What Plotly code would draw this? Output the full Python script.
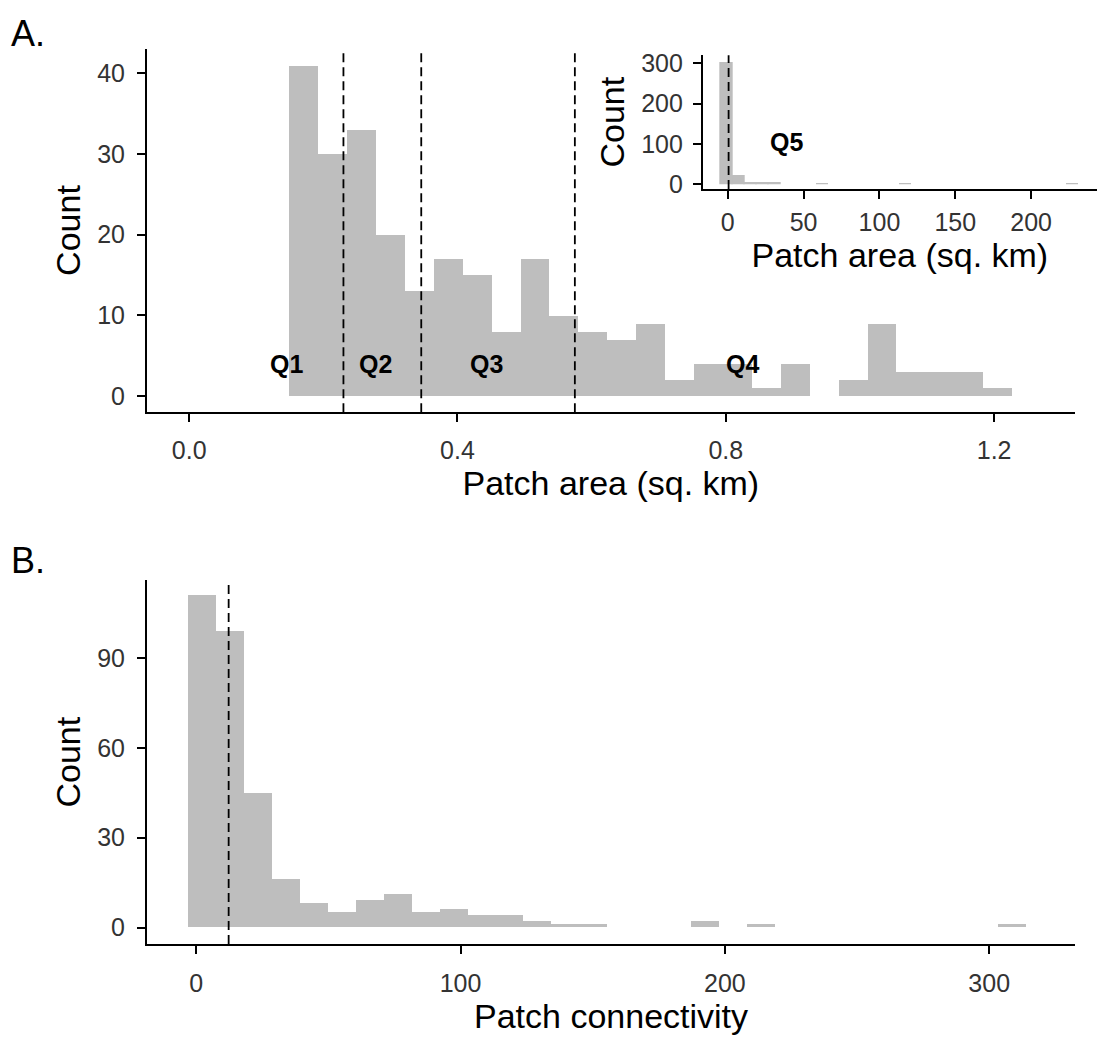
import numpy as np
import plotly.graph_objects as go

W, H = 1103, 1043

# ---------------- data ----------------
# Panel A: patch area histogram (zoomed to < 1.3 sq. km)
area_bin_start = 0.1487
area_bin_width = 0.04311
area_counts = [41, 30, 33, 20, 13, 17, 15, 8, 17, 10, 8, 7, 9, 2, 4, 4, 1, 4, 0, 2, 9, 3, 3, 3, 1]
area_quantile_cuts = [0.230, 0.346, 0.575]
quartile_labels = ["Q1", "Q2", "Q3", "Q4"]
quartile_label_x = [0.145, 0.278, 0.444, 0.825]
quartile_label_y = 3.9

# Inset: full patch area histogram
inset_bin_center0 = -0.57
inset_bin_width = 7.87
inset_counts = [301, 20, 3, 2, 2, 0, 0, 0, 1, 0, 0, 0, 0, 0, 0,
                1, 0, 0, 0, 0, 0, 0, 0, 0, 0, 0, 0, 0, 0, 1]
inset_cut = 0.575
inset_label = "Q5"
inset_label_x = 39
inset_label_y = 106

# Panel B: patch connectivity histogram
conn_bin_start = -3.06
conn_bin_width = 10.56
conn_counts = [111, 99, 45, 16, 8, 5, 9, 11, 5, 6, 4, 4, 2, 1, 1,
               0, 0, 0, 2, 0, 1, 0, 0, 0, 0, 0, 0, 0, 0, 1]
conn_cut = 12.3

# ---------------- helpers ----------------
def fx(px):
    return px / W

def fy(py):
    return 1 - py / H

area_centers = area_bin_start + area_bin_width * (np.arange(len(area_counts)) + 0.5)
inset_centers = inset_bin_center0 + inset_bin_width * np.arange(len(inset_counts))
conn_centers = conn_bin_start + conn_bin_width * (np.arange(len(conn_counts)) + 0.5)

# only non-empty inset bins are drawn (empty bins have no visible bar)
inset_nz = [i for i, c in enumerate(inset_counts) if c > 0]

BAR = "#BEBEBE"
FONT = "Liberation Sans, Arial, sans-serif"
TICKC = "#333333"

fig = go.Figure()
fig.add_trace(go.Bar(x=area_centers, y=area_counts, width=area_bin_width,
                     marker=dict(color=BAR, line=dict(width=0)),
                     xaxis="x", yaxis="y", showlegend=False))
fig.add_trace(go.Bar(x=conn_centers, y=conn_counts, width=conn_bin_width,
                     marker=dict(color=BAR, line=dict(width=0)),
                     xaxis="x2", yaxis="y2", showlegend=False))
fig.add_trace(go.Bar(x=[inset_centers[i] for i in inset_nz],
                     y=[inset_counts[i] for i in inset_nz],
                     width=inset_bin_width,
                     marker=dict(color=BAR, line=dict(width=1.4, color=BAR)),
                     xaxis="x3", yaxis="y3", showlegend=False))

axis_common = dict(showline=True, linecolor="black", linewidth=1.5,
                   ticks="outside", ticklen=8, tickwidth=1.5, tickcolor="black",
                   showgrid=False, zeroline=False,
                   tickfont=dict(family=FONT, size=25, color=TICKC))
title_font = dict(family=FONT, size=34, color="black")

fig.update_layout(
    width=W, height=H,
    margin=dict(l=0, r=0, t=0, b=0),
    paper_bgcolor="white", plot_bgcolor="white",
    bargap=0,
    font=dict(family=FONT),
    xaxis=dict(domain=[fx(146.7), fx(1075)], anchor="y", range=[-0.0633, 1.3206],
               tickvals=[0, 0.4, 0.8, 1.2], ticktext=["0.0", "0.4", "0.8", "1.2"],
               title=dict(text="Patch area (sq. km)", font=title_font, standoff=4),
               ticklabelstandoff=7, **axis_common),
    yaxis=dict(domain=[fy(412.3), fy(43.3)], anchor="x", range=[-2.05, 43.05],
               tickvals=[0, 10, 20, 30, 40],
               title=dict(text="Count", font=title_font, standoff=6),
               ticklabelstandoff=7, **axis_common),
    xaxis2=dict(domain=[fx(146.7), fx(1075.4)], anchor="y2", range=[-18.7, 332.6],
                tickvals=[0, 100, 200, 300],
                title=dict(text="Patch connectivity", font=title_font, standoff=4),
                ticklabelstandoff=8, **axis_common),
    yaxis2=dict(domain=[fy(951.7), fy(582.7)], anchor="x2", range=[-5.5, 116],
                tickvals=[0, 30, 60, 90],
                title=dict(text="Count", font=title_font, standoff=6),
                ticklabelstandoff=7, **axis_common),
    xaxis3=dict(domain=[fx(702.7), fx(1097)], anchor="y3", range=[-16.5, 243.4],
                tickvals=[0, 50, 100, 150, 200],
                title=dict(text="Patch area (sq. km)", font=title_font, standoff=8),
                ticklabelstandoff=2, **axis_common),
    yaxis3=dict(domain=[fy(185.7), fy(50)], anchor="x3", range=[-11.5, 320],
                tickvals=[0, 100, 200, 300],
                title=dict(text="Count", font=title_font, standoff=6),
                ticklabelstandoff=5, **axis_common),
)

dash = dict(color="black", width=1.8, dash="9px,5px")
shapes = []
for c in area_quantile_cuts:
    shapes.append(dict(type="line", xref="x", yref="y domain", x0=c, x1=c, y0=0, y1=1, line=dash))
shapes.append(dict(type="line", xref="x3", yref="y3 domain", x0=inset_cut, x1=inset_cut, y0=0, y1=1, line=dash))
shapes.append(dict(type="line", xref="x2", yref="y2 domain", x0=conn_cut, x1=conn_cut, y0=0, y1=1, line=dash))
fig.update_layout(shapes=shapes)

qfont = dict(family=FONT, size=25, color="black")
ann = []
for lab, xv in zip(quartile_labels, quartile_label_x):
    ann.append(dict(text="<b>%s</b>" % lab, x=xv, y=quartile_label_y, xref="x", yref="y",
                    showarrow=False, font=qfont, xanchor="center", yanchor="middle"))
ann.append(dict(text="<b>%s</b>" % inset_label, x=inset_label_x, y=inset_label_y, xref="x3", yref="y3",
                showarrow=False, font=qfont, xanchor="center", yanchor="middle"))
ann.append(dict(text="A.", x=fx(9), y=fy(28), xref="paper", yref="paper", showarrow=False,
                xanchor="left", yanchor="middle", font=dict(family=FONT, size=36, color="black")))
ann.append(dict(text="B.", x=fx(9), y=fy(563), xref="paper", yref="paper", showarrow=False,
                xanchor="left", yanchor="middle", font=dict(family=FONT, size=36, color="black")))
fig.update_layout(annotations=ann)

fig.write_html("out.html")
